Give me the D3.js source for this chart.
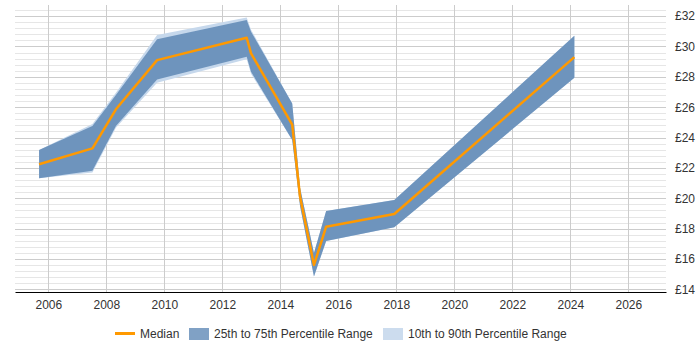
<!DOCTYPE html>
<html><head><meta charset="utf-8">
<script src="https://cdn.jsdelivr.net/npm/d3@7"></script>
<style>
body{margin:0;background:#fff;}
text{font-family:"Liberation Sans",Arial,sans-serif;}
</style>
</head><body>
<svg id="c" width="700" height="350"></svg>
<script>
// Data
const dates  = [2005.68, 2007.52, 2008.33, 2009.75, 2012.84, 2012.99, 2014.41, 2014.68, 2015.16, 2015.58, 2017.93, 2024.14];
const median = [22.24, 23.29, 25.86, 29.10, 30.57, 29.54, 24.85, 20.10, 15.61, 18.13, 18.97, 29.30];
const p25    = [21.32, 21.82, 24.76, 27.83, 29.32, 28.33, 23.84, 19.50, 14.85, 17.19, 18.09, 27.94];
const p75    = [23.18, 24.76, 26.80, 30.47, 31.74, 30.97, 26.25, 20.70, 16.40, 19.16, 19.89, 30.70];
const p10    = [21.32, 21.70, 24.65, 27.61, 29.15, 28.20, 23.84, 19.50, 14.85, 17.19, 18.09, 27.94];
const p90    = [23.18, 24.90, 26.95, 30.75, 31.91, 31.10, 26.25, 20.70, 16.40, 19.16, 19.89, 30.70];
const xTicks = [2006, 2008, 2010, 2012, 2014, 2016, 2018, 2020, 2022, 2024, 2026];
const yTicks = [14, 16, 18, 20, 22, 24, 26, 28, 30, 32];
const legendLabels = ["Median", "25th to 75th Percentile Range", "10th to 90th Percentile Range"];

const svg = d3.select("#c");
const x = d3.scaleLinear().domain([2004.85, 2027.3]).range([15, 666]);
const y = d3.scaleLinear().domain([13.83, 32.4]).range([292, 10]);

// minor grid
const minor = d3.range(14, 32.41, 0.4).filter(v => Math.abs(v/2 - Math.round(v/2)) > 0.01);
svg.append("g").selectAll("line").data(minor).join("line")
  .attr("x1", 15).attr("x2", 666)
  .attr("y1", d => Math.round(y(d)) + 0.5).attr("y2", d => Math.round(y(d)) + 0.5)
  .attr("stroke", "#e6e6e6").attr("stroke-width", 1);
// major grid
svg.append("g").selectAll("line").data(yTicks).join("line")
  .attr("x1", 15).attr("x2", 666)
  .attr("y1", d => Math.round(y(d)) + 0.5).attr("y2", d => Math.round(y(d)) + 0.5)
  .attr("stroke", "#cccccc").attr("stroke-width", 1);
// vertical grid
svg.append("g").selectAll("line").data(xTicks).join("line")
  .attr("x1", d => Math.round(x(d)) + 0.5).attr("x2", d => Math.round(x(d)) + 0.5)
  .attr("y1", 5).attr("y2", 292)
  .attr("stroke", "#cccccc").attr("stroke-width", 1);

const idx = d3.range(dates.length);
const area = (lo, hi) => d3.area().x(i => x(dates[i])).y0(i => y(lo[i])).y1(i => y(hi[i]));
svg.append("path").datum(idx).attr("d", area(p10, p90)).attr("fill", "#c6d8ec");
svg.append("path").datum(idx).attr("d", area(p25, p75)).attr("fill", "#6e94bd");
svg.append("path").datum(idx)
  .attr("d", d3.line().x(i => x(dates[i])).y(i => y(median[i])))
  .attr("fill", "none").attr("stroke", "#ff9900").attr("stroke-width", 2.5)
  .attr("stroke-linejoin", "round");

// x axis
const xa = svg.append("g").attr("transform", "translate(0,292)")
  .call(d3.axisBottom(x).tickValues(xTicks).tickFormat(d3.format("d")).tickSize(0).tickSizeOuter(0).tickPadding(8));
xa.select(".domain").attr("stroke", "#000");
xa.selectAll("text").attr("font-size", 12).attr("fill", "#333").style("font-family", "'Liberation Sans',Arial,sans-serif");

// y axis (right)
const ya = svg.append("g").attr("transform", "translate(666,0)")
  .call(d3.axisRight(y).tickValues(yTicks).tickFormat(d => "£" + d).tickSize(0).tickPadding(9));
ya.select(".domain").remove();
ya.selectAll("text").attr("font-size", 12).attr("fill", "#333").style("font-family", "'Liberation Sans',Arial,sans-serif");

// legend
const lg = svg.append("g");
lg.append("line").attr("x1", 115).attr("x2", 135).attr("y1", 333.5).attr("y2", 333.5)
  .attr("stroke", "#ff9900").attr("stroke-width", 3);
lg.append("text").attr("x", 140).attr("y", 337.5).attr("font-size", 12).attr("fill", "#333").text(legendLabels[0]);
lg.append("rect").attr("x", 189).attr("y", 328).attr("width", 20).attr("height", 12).attr("fill", "#80a1c5");
lg.append("text").attr("x", 214).attr("y", 337.5).attr("font-size", 12).attr("fill", "#333").text(legendLabels[1]);
lg.append("rect").attr("x", 383).attr("y", 328).attr("width", 20).attr("height", 12).attr("fill", "#ccdcee");
lg.append("text").attr("x", 408).attr("y", 337.5).attr("font-size", 12).attr("fill", "#333").text(legendLabels[2]);
</script>
</body></html>
